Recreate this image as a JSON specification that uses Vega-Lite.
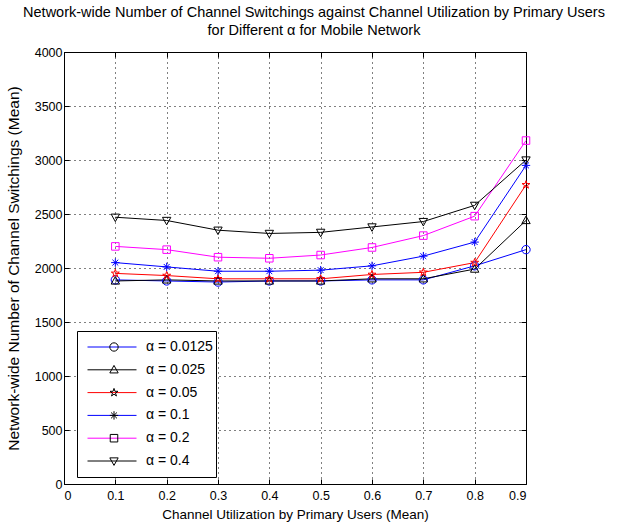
{
  "$schema": "https://vega.github.io/schema/vega-lite/v6.json",
  "width": 462,
  "height": 432,
  "padding": {"left": 6, "top": 4, "right": 10, "bottom": 5},
  "background": "white",
  "config": {
    "font": "Liberation Sans",
    "view": {"stroke": "black", "strokeWidth": 1},
    "axis": {"labelFont": "Liberation Sans", "titleFont": "Liberation Sans", "labelFontSize": 12.5, "titleFontSize": 13.5, "titleFontWeight": "normal", "labelColor": "black", "titleColor": "black", "domainColor": "black", "tickColor": "black"},
    "legend": {"orient": "none", "legendX": 13, "legendY": 279, "padding": 8, "rowPadding": 6.8, "clipHeight": 16, "labelFontSize": 14, "labelFont": "Liberation Sans", "labelColor": "black", "symbolStrokeWidth": 1}
  },
  "title": {
    "text": ["Network-wide Number of Channel Switchings against Channel Utilization by Primary Users", "for Different α for Mobile Network"],
    "fontSize": 14.5,
    "fontWeight": "normal",
    "font": "Liberation Sans",
    "anchor": "middle",
    "dx": 19,
    "offset": 8,
    "lineHeight": 18
  },
  "data": {"values": [
    {"series": "α = 0.0125", "u": 0.1, "n": 1890}, {"series": "α = 0.0125", "u": 0.2, "n": 1880}, {"series": "α = 0.0125", "u": 0.3, "n": 1870}, {"series": "α = 0.0125", "u": 0.4, "n": 1880}, {"series": "α = 0.0125", "u": 0.5, "n": 1880}, {"series": "α = 0.0125", "u": 0.6, "n": 1890}, {"series": "α = 0.0125", "u": 0.7, "n": 1890}, {"series": "α = 0.0125", "u": 0.8, "n": 2020}, {"series": "α = 0.0125", "u": 0.9, "n": 2170},
    {"series": "α = 0.025", "u": 0.1, "n": 1880}, {"series": "α = 0.025", "u": 0.2, "n": 1890}, {"series": "α = 0.025", "u": 0.3, "n": 1880}, {"series": "α = 0.025", "u": 0.4, "n": 1880}, {"series": "α = 0.025", "u": 0.5, "n": 1880}, {"series": "α = 0.025", "u": 0.6, "n": 1900}, {"series": "α = 0.025", "u": 0.7, "n": 1900}, {"series": "α = 0.025", "u": 0.8, "n": 1990}, {"series": "α = 0.025", "u": 0.9, "n": 2440},
    {"series": "α = 0.05", "u": 0.1, "n": 1950}, {"series": "α = 0.05", "u": 0.2, "n": 1930}, {"series": "α = 0.05", "u": 0.3, "n": 1900}, {"series": "α = 0.05", "u": 0.4, "n": 1900}, {"series": "α = 0.05", "u": 0.5, "n": 1900}, {"series": "α = 0.05", "u": 0.6, "n": 1940}, {"series": "α = 0.05", "u": 0.7, "n": 1960}, {"series": "α = 0.05", "u": 0.8, "n": 2050}, {"series": "α = 0.05", "u": 0.9, "n": 2770},
    {"series": "α = 0.1", "u": 0.1, "n": 2050}, {"series": "α = 0.1", "u": 0.2, "n": 2010}, {"series": "α = 0.1", "u": 0.3, "n": 1970}, {"series": "α = 0.1", "u": 0.4, "n": 1970}, {"series": "α = 0.1", "u": 0.5, "n": 1980}, {"series": "α = 0.1", "u": 0.6, "n": 2020}, {"series": "α = 0.1", "u": 0.7, "n": 2110}, {"series": "α = 0.1", "u": 0.8, "n": 2240}, {"series": "α = 0.1", "u": 0.9, "n": 2950},
    {"series": "α = 0.2", "u": 0.1, "n": 2200}, {"series": "α = 0.2", "u": 0.2, "n": 2170}, {"series": "α = 0.2", "u": 0.3, "n": 2100}, {"series": "α = 0.2", "u": 0.4, "n": 2090}, {"series": "α = 0.2", "u": 0.5, "n": 2120}, {"series": "α = 0.2", "u": 0.6, "n": 2190}, {"series": "α = 0.2", "u": 0.7, "n": 2300}, {"series": "α = 0.2", "u": 0.8, "n": 2480}, {"series": "α = 0.2", "u": 0.9, "n": 3180},
    {"series": "α = 0.4", "u": 0.1, "n": 2470}, {"series": "α = 0.4", "u": 0.2, "n": 2440}, {"series": "α = 0.4", "u": 0.3, "n": 2350}, {"series": "α = 0.4", "u": 0.4, "n": 2320}, {"series": "α = 0.4", "u": 0.5, "n": 2330}, {"series": "α = 0.4", "u": 0.6, "n": 2380}, {"series": "α = 0.4", "u": 0.7, "n": 2430}, {"series": "α = 0.4", "u": 0.8, "n": 2580}, {"series": "α = 0.4", "u": 0.9, "n": 3000}
  ]},
  "resolve": {"axis": {"x": "independent", "y": "independent"}, "scale": {"color": "independent"}, "legend": {"color": "independent"}},
  "layer": [
    {
      "mark": {"type": "line", "strokeWidth": 1, "clip": false},
      "encoding": {
        "x": {"field": "u", "type": "quantitative", "scale": {"domain": [0, 0.9], "nice": false},
          "axis": {"title": "Channel Utilization by Primary Users (Mean)", "values": [0, 0.1, 0.2, 0.3, 0.4, 0.5, 0.6, 0.7, 0.8, 0.9], "labelExpr": "datum.value == 0 ? '0' : format(datum.value, '.1f')", "grid": true, "gridDash": [1, 4], "gridColor": "black", "gridOpacity": 1, "tickSize": -5, "labelPadding": 10, "titlePadding": 6, "domain": false}},
        "y": {"field": "n", "type": "quantitative", "scale": {"domain": [0, 4000], "nice": false},
          "axis": {"title": "Network-wide Number of Channel Switchings (Mean)", "titleFontSize": 15.5, "values": [0, 500, 1000, 1500, 2000, 2500, 3000, 3500, 4000], "format": "d", "grid": true, "gridDash": [1, 4], "gridColor": "black", "gridOpacity": 1, "tickSize": -5, "labelPadding": 7, "titlePadding": 13, "domain": false}},
        "color": {"field": "series", "type": "nominal", "title": null,
          "scale": {"domain": ["α = 0.0125", "α = 0.025", "α = 0.05", "α = 0.1", "α = 0.2", "α = 0.4"], "range": ["#0000ff", "#000000", "#ff0000", "#0000ff", "#ff00ff", "#000000"]},
          "legend": {"symbolType": "stroke", "symbolSize": 2401, "symbolOffset": 2, "labelOffset": 4, "labelOpacity": 0, "fillColor": "white", "strokeColor": "black", "zindex": 0}},
        "detail": {"field": "series"}
      }
    },
    {
      "mark": {"type": "point", "filled": false, "strokeWidth": 1, "size": 70, "opacity": 1, "clip": false},
      "encoding": {
        "x": {"field": "u", "type": "quantitative", "axis": {"orient": "top", "labels": false, "title": null, "grid": false, "tickSize": -5, "values": [0, 0.1, 0.2, 0.3, 0.4, 0.5, 0.6, 0.7, 0.8, 0.9], "domain": false}},
        "y": {"field": "n", "type": "quantitative", "axis": {"orient": "right", "labels": false, "title": null, "grid": false, "tickSize": -5, "values": [0, 500, 1000, 1500, 2000, 2500, 3000, 3500, 4000], "domain": false}},
        "color": {"field": "series", "type": "nominal", "title": null,
          "scale": {"range": ["#0000ff", "#000000", "#ff0000", "#0000ff", "#ff00ff", "#000000"]},
          "legend": null},
        "shape": {"field": "series", "type": "nominal", "title": null,
          "scale": {"range": ["M-1,0A1,1,0,1,1,1,0A1,1,0,1,1,-1,0Z", "M0,-1.05L1,0.75L-1,0.75Z", "M0,-1L0.225,-0.309L0.951,-0.309L0.363,0.118L0.588,0.809L0,0.382L-0.588,0.809L-0.363,0.118L-0.951,-0.309L-0.225,-0.309Z", "M0,-1L0,1M-1,0L1,0M-0.7,-0.7L0.7,0.7M-0.7,0.7L0.7,-0.7", "M-0.9,-0.9L0.9,-0.9L0.9,0.9L-0.9,0.9Z", "M0,1.05L1,-0.75L-1,-0.75Z"]},
          "legend": {"symbolSize": 70, "symbolOffset": 22, "labelOffset": 25, "fillColor": "transparent", "strokeColor": "transparent", "zindex": 1, "symbolStrokeColor": "black",
            "encode": {"symbols": {"update": {"stroke": {"signal": "datum.value == 'α = 0.05' ? '#ff0000' : (datum.value == 'α = 0.2' ? '#ff00ff' : ((datum.value == 'α = 0.0125' || datum.value == 'α = 0.1') ? '#0000ff' : '#000000'))"}, "strokeOpacity": {"value": 1}}}}}}
      }
    }
  ]
}
